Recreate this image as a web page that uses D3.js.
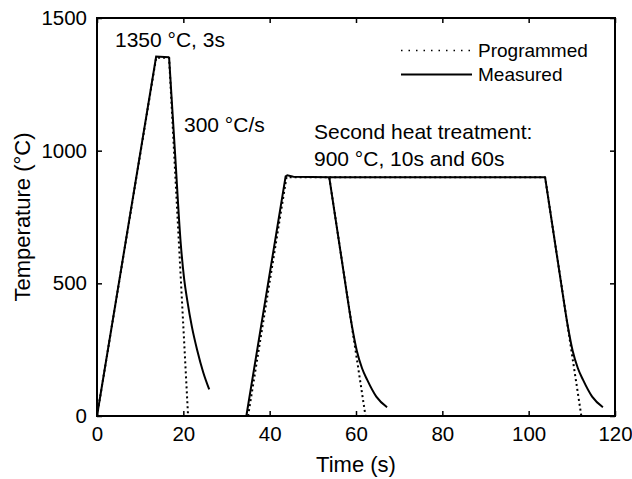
<!DOCTYPE html>
<html>
<head>
<meta charset="utf-8">
<script src="https://cdn.jsdelivr.net/npm/d3@7"></script>
<style>
  body { margin: 0; background: #fff; }
  text { font-family: "Liberation Sans", Arial, sans-serif; fill: #000; }
</style>
</head>
<body>
<div id="chart"></div>
<script>
// Programmed schedule [time s, temp °C]
const programmed1 = [[0, 0], [13.7, 1350], [16.7, 1350], [21.1, 0]];
const programmed2 = [[35, 0], [43.9, 900], [53.8, 900], [62.2, 0]];
const programmed3 = [[53.8, 900], [103.8, 900], [112.2, 0]];

// Measured thermocouple curves: heating/holding parts (straight)...
const measuredHeat1 = [[0, 0], [13.7, 1355], [16.7, 1352]];
const measuredHeat2 = [[34.6, 0], [43.7, 903], [44.1, 907], [45.5, 902], [53.8, 900]];
const measuredHold3 = [[53.8, 900], [103.8, 900]];
// ...and cooling parts (smooth)
const measuredCool1 = [[16.7, 1352], [18.1, 985], [19.4, 650], [20.2, 515], [20.9, 437],
    [22.0, 335], [23.2, 249], [24.6, 165], [26, 100]];
const measuredCool2 = [[53.8, 900], [57.4, 513], [59.0, 345], [60.2, 245], [61.4, 180],
    [62.6, 136], [64.7, 73], [67.2, 33]];
const measuredCool3 = [[103.8, 900], [107.4, 513], [109.0, 345], [110.2, 245], [111.4, 180],
    [112.6, 136], [114.7, 73], [117.2, 33]];

const xTicks = [0, 20, 40, 60, 80, 100, 120];
const yTicks = [0, 500, 1000, 1500];

const W = 632, H = 479;
const margin = {top: 18, right: 17, bottom: 63, left: 97};
const w = W - margin.left - margin.right;
const h = H - margin.top - margin.bottom;

const svg = d3.select("#chart").append("svg")
    .attr("width", W)
    .attr("height", H);

const g = svg.append("g")
    .attr("transform", "translate(" + margin.left + "," + margin.top + ")");

const x = d3.scaleLinear().domain([0, 120]).range([0, w]);
const y = d3.scaleLinear().domain([0, 1500]).range([h, 0]);
const fmt = d3.format("d");

// axes with inward ticks on all four sides
g.append("g")
    .attr("transform", "translate(0," + h + ")")
    .call(d3.axisBottom(x).tickValues(xTicks).tickFormat(fmt).tickSizeInner(-5).tickSizeOuter(0).tickPadding(10));
g.append("g")
    .call(d3.axisTop(x).tickValues(xTicks).tickSizeInner(-5).tickSizeOuter(0).tickFormat(""));
g.append("g")
    .call(d3.axisLeft(y).tickValues(yTicks).tickFormat(fmt).tickSizeInner(-5).tickSizeOuter(0).tickPadding(10));
g.append("g")
    .attr("transform", "translate(" + w + ",0)")
    .call(d3.axisRight(y).tickValues(yTicks).tickSizeInner(-5).tickSizeOuter(0).tickFormat(""));

g.selectAll(".domain").remove();
g.selectAll(".tick line").attr("stroke", "#000").attr("stroke-width", 1.5);
g.selectAll(".tick text").style("font-size", "20.5px").attr("fill", "#000");

g.append("rect")
    .attr("width", w)
    .attr("height", h)
    .attr("fill", "none")
    .attr("stroke", "#000")
    .attr("stroke-width", 2);

const smooth = d3.line()
    .x(d => x(d[0]))
    .y(d => y(d[1]))
    .curve(d3.curveMonotoneX);

const straight = d3.line()
    .x(d => x(d[0]))
    .y(d => y(d[1]));

[programmed1, programmed2, programmed3].forEach(function(s) {
    g.append("path")
        .datum(s)
        .attr("d", straight)
        .attr("fill", "none")
        .attr("stroke", "#000")
        .attr("stroke-width", 2)
        .attr("stroke-dasharray", "2,3");
});

[measuredHeat1, measuredHeat2, measuredHold3].forEach(function(s) {
    g.append("path")
        .datum(s)
        .attr("d", straight)
        .attr("fill", "none")
        .attr("stroke", "#000")
        .attr("stroke-width", 2);
});

[measuredCool1, measuredCool2, measuredCool3].forEach(function(s) {
    g.append("path")
        .datum(s)
        .attr("d", smooth)
        .attr("fill", "none")
        .attr("stroke", "#000")
        .attr("stroke-width", 2);
});

// legend
const legend = svg.append("g");
legend.append("line")
    .attr("x1", 401).attr("x2", 472).attr("y1", 50.5).attr("y2", 50.5)
    .attr("stroke", "#000").attr("stroke-width", 1.5).attr("stroke-dasharray", "1.5,6");
legend.append("line")
    .attr("x1", 401).attr("x2", 472).attr("y1", 74.5).attr("y2", 74.5)
    .attr("stroke", "#000").attr("stroke-width", 2);
legend.append("text").attr("x", 478).attr("y", 57).style("font-size", "19px").text("Programmed");
legend.append("text").attr("x", 478).attr("y", 81).style("font-size", "19px").text("Measured");

// annotations
const notes = [
    {x: 115, y: 47, t: "1350 °C, 3s"},
    {x: 184, y: 132, t: "300 °C/s"},
    {x: 314, y: 139, t: "Second heat treatment:"},
    {x: 314, y: 166, t: "900 °C, 10s and 60s"}
];
svg.selectAll(".note").data(notes).enter().append("text")
    .attr("class", "note")
    .attr("x", d => d.x)
    .attr("y", d => d.y)
    .style("font-size", "21px")
    .text(d => d.t);

// axis titles
svg.append("text")
    .attr("x", margin.left + w / 2)
    .attr("y", 472)
    .attr("text-anchor", "middle")
    .style("font-size", "22px")
    .text("Time (s)");

svg.append("text")
    .attr("transform", "translate(30," + (margin.top + h / 2) + ") rotate(-90)")
    .attr("text-anchor", "middle")
    .style("font-size", "22px")
    .text("Temperature (°C)");
</script>
</body>
</html>
